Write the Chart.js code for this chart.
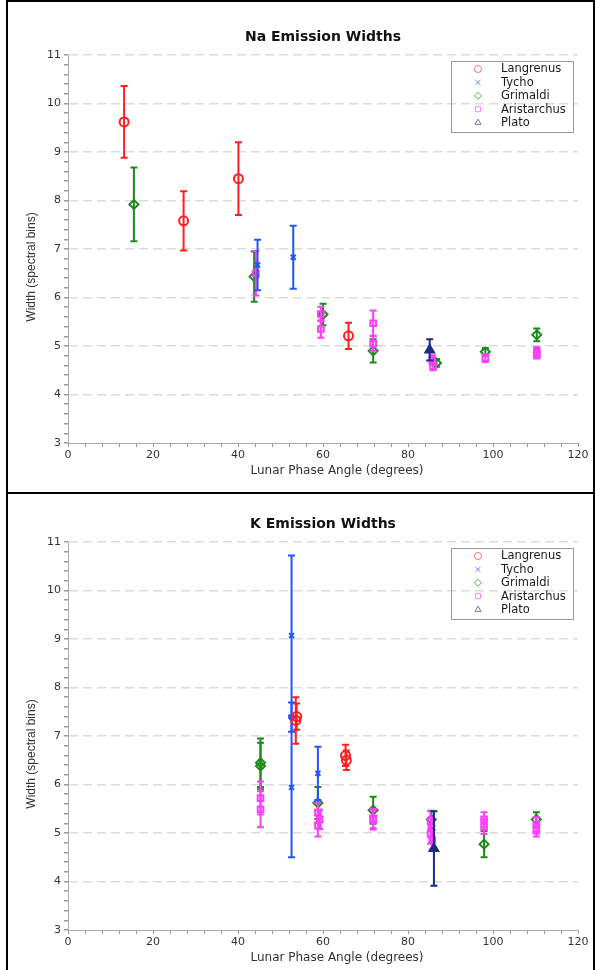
<!DOCTYPE html>
<html>
<head>
<meta charset="utf-8">
<script src="https://cdn.jsdelivr.net/npm/chart.js@4.4.0/dist/chart.umd.min.js"></script>
<style>
body{margin:0;background:#fff;}
#page{position:relative;width:595px;height:970px;overflow:hidden;}
.frame{position:absolute;left:6px;width:589px;border:2px solid #000;box-sizing:border-box;}
canvas{position:absolute;}
</style>
</head>
<body>
<div id="page">
<div class="frame" style="top:0;height:494px"></div>
<div class="frame" style="top:492px;height:480px"></div>
<canvas id="naChart" width="583" height="488" style="left:9px;top:3px"></canvas>
<canvas id="kChart" width="583" height="475" style="left:9px;top:495px"></canvas>
</div>
<script>
// axis ticks
const xTicks = [0, 20, 40, 60, 80, 100, 120];
const yTicks = [3, 4, 5, 6, 7, 8, 9, 10, 11];
const craters = ["Langrenus", "Tycho", "Grimaldi", "Aristarchus", "Plato"];

// Na emission widths
const naLangrenusAngle = [13.2, 27.2, 40.1, 66.0];
const naLangrenusWidth = [9.62, 7.58, 8.45, 5.21];
const naLangrenusErr = [0.74, 0.61, 0.75, 0.27];
const naTychoAngle = [44.6, 53.0];
const naTychoWidth = [6.67, 6.83];
const naTychoErr = [0.52, 0.65];
const naGrimaldiAngle = [15.5, 43.8, 60.0, 71.8, 86.7, 98.2, 110.3];
const naGrimaldiWidth = [7.92, 6.43, 5.65, 4.90, 4.65, 4.88, 5.23];
const naGrimaldiErr = [0.76, 0.52, 0.22, 0.24, 0.08, 0.08, 0.13];
const naAristarchusAngle = [44.2, 59.5, 59.5, 71.8, 71.8, 85.7, 85.9, 98.2, 110.3, 110.3];
const naAristarchusWidth = [6.50, 5.66, 5.35, 5.47, 5.05, 4.71, 4.58, 4.75, 4.88, 4.82];
const naAristarchusErr = [0.46, 0.15, 0.18, 0.26, 0.15, 0.10, 0.08, 0.08, 0.10, 0.08];
const naPlatoAngle = [85.1];
const naPlatoWidth = [4.92];
const naPlatoErr = [0.22];

// K emission widths
const kLangrenusAngle = [53.6, 53.8, 65.3, 65.5];
const kLangrenusWidth = [7.32, 7.40, 6.60, 6.50];
const kLangrenusErr = [0.48, 0.27, 0.22, 0.20];
const kTychoAngle = [52.6, 52.6, 52.6, 58.8];
const kTychoWidth = [9.07, 7.39, 5.94, 6.23];
const kTychoErr = [1.65, 0.30, 1.44, 0.55];
const kGrimaldiAngle = [45.3, 45.3, 58.8, 71.8, 85.5, 97.9, 110.2];
const kGrimaldiWidth = [6.45, 6.38, 5.62, 5.47, 5.28, 4.77, 5.28];
const kGrimaldiErr = [0.50, 0.48, 0.33, 0.28, 0.18, 0.27, 0.15];
const kAristarchusAngle = [45.3, 45.3, 58.8, 59.2, 58.8, 71.8, 71.8, 85.3, 85.5, 85.3, 85.7, 97.9, 97.9, 110.2, 110.2];
const kAristarchusWidth = [5.72, 5.49, 5.42, 5.28, 5.15, 5.30, 5.27, 5.25, 5.12, 4.98, 4.86, 5.28, 5.13, 5.18, 5.05];
const kAristarchusErr = [0.34, 0.37, 0.20, 0.20, 0.22, 0.20, 0.20, 0.20, 0.20, 0.20, 0.20, 0.15, 0.15, 0.15, 0.12];
const kPlatoAngle = [86.1];
const kPlatoWidth = [4.68];
const kPlatoErr = [0.77];

const look = {
  Langrenus: {color: "#ff1f1f", legend: "#ff7070", shape: "circle", r: 4.5},
  Tycho: {color: "#2255ff", legend: "#6677ff", shape: "crossRot", r: 3.5},
  Grimaldi: {color: "#1c8a1c", legend: "#4cb04c", shape: "rectRot", r: 4.5},
  Aristarchus: {color: "#ff3cff", legend: "#ff80ff", shape: "rect", r: 4},
  Plato: {color: "#1c2a8c", legend: "#7070c8", shape: "triangle", r: 5, fill: true}
};

function set(name, angles, widths, errs){
  const s = look[name];
  return {
    label: name,
    data: angles.map((a, i) => ({x: a, y: widths[i]})),
    errors: errs,
    borderColor: s.color,
    pointStyle: s.shape,
    pointRadius: s.r,
    pointBorderWidth: 2,
    pointBorderColor: s.color,
    pointBackgroundColor: s.fill ? s.color : "rgba(0,0,0,0)",
    showLine: false
  };
}

const errorBars = {
  id: "errorBars",
  beforeDatasetDraw(chart, args){
    const ds = chart.data.datasets[args.index];
    if(!ds.errors) return;
    const y = chart.scales.y, c = chart.ctx;
    c.save();
    c.strokeStyle = ds.borderColor;
    c.lineWidth = 2;
    args.meta.data.forEach((pt, j) => {
      const v = ds.data[j].y, e = ds.errors[j];
      const t = y.getPixelForValue(v + e), b = y.getPixelForValue(v - e);
      c.beginPath();
      c.moveTo(pt.x, t); c.lineTo(pt.x, b);
      c.moveTo(pt.x - 3.5, t); c.lineTo(pt.x + 3.5, t);
      c.moveTo(pt.x - 3.5, b); c.lineTo(pt.x + 3.5, b);
      c.stroke();
    });
    c.restore();
  }
};

const decor = {
  id: "decor",
  afterDraw(chart, args, opts){
    const a = chart.chartArea, c = chart.ctx;
    c.save();
    c.fillStyle = "#111";
    c.textAlign = "center";
    c.textBaseline = "middle";
    c.font = "bold 14px 'DejaVu Sans'";
    c.fillText(opts.title, (a.left + a.right) / 2, a.top - 18);
    c.fillStyle = "#333";
    c.font = "12px 'DejaVu Sans'";
    c.fillText("Lunar Phase Angle (degrees)", (a.left + a.right) / 2 + 14, a.bottom + 27.5);
    c.save();
    c.translate(a.left - 36, a.top + 212);
    c.rotate(-Math.PI / 2);
    c.font = "12px 'Liberation Sans'";
    c.fillText("Width (spectral bins)", 0, 0);
    c.restore();

    // legend box
    const bx = a.right - 127, by = a.top + 6;
    c.strokeStyle = "#999";
    c.lineWidth = 1;
    c.strokeRect(bx + 0.5, by + 0.5, 122, 71);
    c.textAlign = "left";
    c.font = "11.5px 'DejaVu Sans'";
    craters.forEach((name, i) => {
      const s = look[name], ry = by + 8 + i * 13.4;
      c.strokeStyle = s.legend;
      c.fillStyle = "rgba(0,0,0,0)";
      Chart.helpers.drawPoint(c, {pointStyle: s.shape, radius: 3.5, borderWidth: 1.2, rotation: 0}, bx + 27, ry);
      c.fillStyle = "#1a1a1a";
      c.fillText(name, bx + 50, ry + 0.5);
    });
    c.restore();
  }
};

function isMajor(v, list){
  return Math.abs(v - Math.round(v)) < 1e-6 && list.includes(Math.round(v));
}

function panel(id, title, sets, topPad, xHeight){
  return new Chart(document.getElementById(id), {
    type: "scatter",
    data: {datasets: sets},
    plugins: [errorBars, decor],
    options: {
      responsive: false,
      animation: false,
      devicePixelRatio: 1,
      layout: {padding: {top: topPad, right: 14, left: 0, bottom: 0}},
      plugins: {legend: {display: false}, tooltip: {enabled: false}, decor: {title: title}},
      scales: {
        x: {
          min: xTicks[0], max: xTicks[xTicks.length - 1],
          afterFit(s){ s.height = xHeight; },
          grid: {drawOnChartArea: false, tickColor: "#999", tickLength: 4},
          border: {color: "#aaa"},
          ticks: {
            stepSize: 4, autoSkip: false, maxRotation: 0, padding: 2,
            color: "#333", font: {family: "DejaVu Sans", size: 11},
            callback: v => isMajor(v, xTicks) ? String(Math.round(v)) : ""
          }
        },
        y: {
          min: yTicks[0], max: yTicks[yTicks.length - 1],
          afterFit(s){ s.width = 59; },
          grid: {
            color: ctx => ctx.tick && isMajor(ctx.tick.value, yTicks) && ctx.tick.value > 3.5 ? "#dcdcdc" : "rgba(0,0,0,0)",
            tickColor: "#999", tickLength: 4, lineWidth: 1.5
          },
          border: {color: "#aaa", dash: [9, 5]},
          ticks: {
            stepSize: 0.2, autoSkip: false, padding: 3,
            color: "#333", font: {family: "DejaVu Sans", size: 11},
            callback: v => isMajor(v, yTicks) ? String(Math.round(v)) : ""
          }
        }
      }
    }
  });
}

panel("naChart", "Na Emission Widths", [
  set("Langrenus", naLangrenusAngle, naLangrenusWidth, naLangrenusErr),
  set("Tycho", naTychoAngle, naTychoWidth, naTychoErr),
  set("Plato", naPlatoAngle, naPlatoWidth, naPlatoErr),
  set("Aristarchus", naAristarchusAngle, naAristarchusWidth, naAristarchusErr),
  set("Grimaldi", naGrimaldiAngle, naGrimaldiWidth, naGrimaldiErr)
], 52, 48);

panel("kChart", "K Emission Widths", [
  set("Langrenus", kLangrenusAngle, kLangrenusWidth, kLangrenusErr),
  set("Tycho", kTychoAngle, kTychoWidth, kTychoErr),
  set("Plato", kPlatoAngle, kPlatoWidth, kPlatoErr),
  set("Aristarchus", kAristarchusAngle, kAristarchusWidth, kAristarchusErr),
  set("Grimaldi", kGrimaldiAngle, kGrimaldiWidth, kGrimaldiErr)
], 47, 40);
</script>
</body>
</html>
